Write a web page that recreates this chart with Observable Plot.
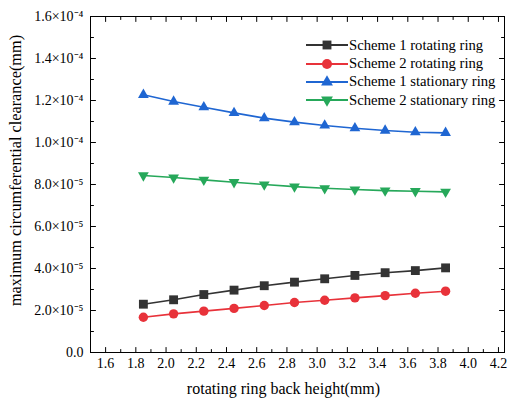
<!DOCTYPE html>
<html>
<head>
<meta charset="utf-8">
<script src="https://cdn.jsdelivr.net/npm/d3@7"></script>
<script src="https://cdn.jsdelivr.net/npm/@observablehq/plot@0.6"></script>
<style>
  html, body { margin: 0; padding: 0; background: #fff; }
  #wrap { position: relative; width: 509px; height: 403px; }
  #legend { position: absolute; left: 306px; top: 36px; font-family: "Liberation Serif", "Times New Roman", serif; font-size: 14.7px; color: #000; }
  #legend .row { display: flex; align-items: center; height: 18.4px; }
  #legend svg { display: block; }
  svg.chart text { font-family: "Liberation Serif", "Times New Roman", serif !important; fill: #000; }
  svg.chart g.ticklab text { font-size: 14px !important; }
  svg.chart g.title text { font-size: 16px !important; }
  svg.chart g.ytitle text { font-size: 16.3px !important; }
</style>
</head>
<body>
<div id="wrap"><div id="legend"></div></div>
<script>
// ---- data ----
const heights = [1.85, 2.05, 2.25, 2.45, 2.65, 2.85, 3.05, 3.25, 3.45, 3.65, 3.85];
const s1Rotating   = [2.30e-5, 2.51e-5, 2.76e-5, 2.97e-5, 3.18e-5, 3.35e-5, 3.51e-5, 3.67e-5, 3.80e-5, 3.90e-5, 4.03e-5];
const s2Rotating   = [1.68e-5, 1.84e-5, 1.97e-5, 2.10e-5, 2.24e-5, 2.38e-5, 2.49e-5, 2.60e-5, 2.71e-5, 2.82e-5, 2.92e-5];
const s1Stationary = [12.27e-5, 11.95e-5, 11.68e-5, 11.41e-5, 11.16e-5, 10.97e-5, 10.81e-5, 10.68e-5, 10.57e-5, 10.49e-5, 10.46e-5];
const s2Stationary = [8.43e-5, 8.33e-5, 8.22e-5, 8.11e-5, 8.00e-5, 7.90e-5, 7.82e-5, 7.76e-5, 7.71e-5, 7.68e-5, 7.65e-5];
const seriesNames = ["Scheme 1 rotating ring", "Scheme 2 rotating ring", "Scheme 1 stationary ring", "Scheme 2 stationary ring"];
const seriesColors = ["#333333", "#e8323a", "#1f66d2", "#26a85a"];
const seriesSymbols = ["square", "circle", "triangle", "triangle"];
const seriesRotate = [0, 0, 0, 180];
const xTicks = [1.6, 1.8, 2.0, 2.2, 2.4, 2.6, 2.8, 3.0, 3.2, 3.4, 3.6, 3.8, 4.0, 4.2];
const xMinorTicks = [1.5, 1.7, 1.9, 2.1, 2.3, 2.5, 2.7, 2.9, 3.1, 3.3, 3.5, 3.7, 3.9, 4.1];
const yTicks = [0, 2e-5, 4e-5, 6e-5, 8e-5, 10e-5, 12e-5, 14e-5, 16e-5];
const yTickLabels = ["0.0", "2.0×10⁻⁵", "4.0×10⁻⁵", "6.0×10⁻⁵", "8.0×10⁻⁵", "1.0×10⁻⁴", "1.2×10⁻⁴", "1.4×10⁻⁴", "1.6×10⁻⁴"];
const yMinorTicks = [1e-5, 3e-5, 5e-5, 7e-5, 9e-5, 11e-5, 13e-5, 15e-5];
const xLabel = "rotating ring back height(mm)";
const yLabel = "maximum circumferential clearance(mm)";

const allValues = [s1Rotating, s2Rotating, s1Stationary, s2Stationary];
const rows = [];
allValues.forEach((vals, i) => vals.forEach((v, j) => rows.push({x: heights[j], y: v, s: i})));

const font = "Liberation Serif, Times New Roman, serif";
const tickShape = {draw(ctx, l) { ctx.moveTo(0, 0); ctx.lineTo(0, -l); }};
const vec = (data, {len, ...opts}) => Plot.vector(data, {length: len, shape: tickShape, anchor: "start", stroke: "#000", strokeWidth: 1, ...opts});

const marks = [
  // tick labels
  Plot.text(xTicks, {x: d => d, frameAnchor: "bottom", lineAnchor: "top", dy: 6, fontSize: 14, fontFamily: font, fill: "#000", text: d => d.toFixed(1), className: "ticklab"}),
  Plot.text(yTicks, {y: d => d, frameAnchor: "left", textAnchor: "end", dx: -7, fontSize: 14, fontFamily: font, fill: "#000", text: (d, i) => yTickLabels[i], className: "ticklab"}),
  // inward ticks
  vec(xTicks, {x: d => d, frameAnchor: "bottom", rotate: 0, len: 5}),
  vec(xMinorTicks, {x: d => d, frameAnchor: "bottom", rotate: 0, len: 3}),
  vec(xTicks, {x: d => d, frameAnchor: "top", rotate: 180, len: 5}),
  vec(xMinorTicks, {x: d => d, frameAnchor: "top", rotate: 180, len: 3}),
  vec(yTicks, {y: d => d, frameAnchor: "left", rotate: 90, len: 5}),
  vec(yMinorTicks, {y: d => d, frameAnchor: "left", rotate: 90, len: 3}),
  vec(yTicks, {y: d => d, frameAnchor: "right", rotate: -90, len: 5}),
  vec(yMinorTicks, {y: d => d, frameAnchor: "right", rotate: -90, len: 3}),
  Plot.frame({stroke: "#000", strokeWidth: 1}),
  // axis titles
  Plot.text([xLabel], {frameAnchor: "bottom", dx: -14, dy: 41, fontSize: 16, fontFamily: font, fill: "#000", text: d => d, className: "title"}),
  Plot.text([yLabel], {frameAnchor: "left", textAnchor: "middle", rotate: -90, dx: -75, dy: -14, fontSize: 16.3, fontFamily: font, fill: "#000", text: d => d, className: "ytitle"}),
];
seriesNames.forEach((name, i) => {
  const d = rows.filter(r => r.s === i);
  marks.push(Plot.line(d, {x: "x", y: "y", stroke: seriesColors[i], strokeWidth: 1.6}));
  marks.push(Plot.dot(d, {x: "x", y: "y", fill: seriesColors[i], stroke: "none", symbol: seriesSymbols[i], rotate: seriesRotate[i],
    r: i === 0 ? 5 : i === 1 ? 4.7 : 4}));
});

const chart = Plot.plot({
  width: 509,
  height: 403,
  marginLeft: 90,
  marginRight: 5,
  marginTop: 16,
  marginBottom: 51,
  className: "chart",
  style: {background: "#fff", overflow: "visible"},
  x: {domain: [1.5, 4.24], axis: null},
  y: {domain: [0, 1.6e-4], axis: null},
  marks
});
chart.classList.add("chart");
document.getElementById("wrap").prepend(chart);

// legend (HTML overlay inside plot frame)
const legend = d3.select("#legend");
seriesNames.forEach((name, i) => {
  const row = legend.append("div").attr("class", "row");
  const svg = row.append("svg").attr("width", 43).attr("height", 18);
  svg.append("line").attr("x1", 0).attr("x2", 42).attr("y1", 9).attr("y2", 9).attr("stroke", seriesColors[i]).attr("stroke-width", 2.2);
  const sym = {square: d3.symbolSquare, circle: d3.symbolCircle, triangle: d3.symbolTriangle}[seriesSymbols[i]];
  const r = i === 0 ? 5 : i === 1 ? 5 : 4.4;
  svg.append("path").attr("d", d3.symbol(sym, Math.PI * r * r)()).attr("transform", `translate(21,9) rotate(${seriesRotate[i]})`).attr("fill", seriesColors[i]);
  row.append("span").text(name);
});
</script>
</body>
</html>
